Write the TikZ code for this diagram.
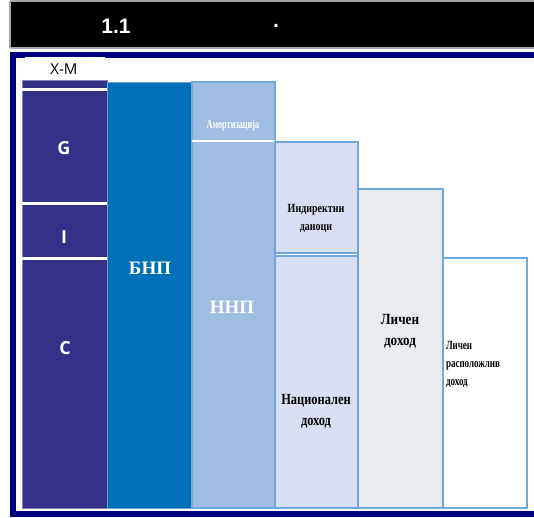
\documentclass[tikz,border=0pt]{standalone}
\usepackage{fontspec}
\setmainfont{Liberation Serif}
\newfontfamily\sansfont{Open Sans}
\newfontfamily\titlefont{Liberation Sans}
\definecolor{framenavy}{RGB}{0,0,128}
\definecolor{gdpviolet}{RGB}{53,48,136}
\definecolor{gnpblue}{RGB}{0,112,184}
\definecolor{nnpblue}{RGB}{160,188,226}
\definecolor{niblue}{RGB}{217,223,242}
\definecolor{pigray}{RGB}{232,236,240}
\definecolor{edgeblue}{RGB}{111,168,220}
\newcommand{\narrow}[2]{\scalebox{#1}[1]{#2}}

\begin{document}
\begin{tikzpicture}[x=1pt,y=-1pt,
  every node/.style={inner sep=0pt, outer sep=0pt},
  bar/.style={draw=edgeblue, line width=1.5pt},
  sepline/.style={white, line width=2.5pt},
  letter/.style={text=white, font=\sansfont\bfseries\fontsize{18}{18}\selectfont},
  whitelbl/.style={text=white, font=\bfseries\fontsize{19}{19}\selectfont},
  darklbl/.style={text=black, font=\bfseries\fontsize{15.5}{21}\selectfont, align=center},
  smalllbl/.style={text=black, font=\bfseries\fontsize{12.5}{18}\selectfont, align=center}]
\useasboundingbox (0,0) rectangle (534,517);

% title bar
\fill[black] (10,1) rectangle (534,48);
\draw[gray!70, line width=1.2pt] (10,1) -- (534,1) (10,48) -- (534,48) (10,1) -- (10,48);
\node[text=white, font=\titlefont\bfseries\fontsize{21}{21}\selectfont] (nr) at (116,26) {1.1};
\node[text=white, font=\titlefont\bfseries\fontsize{21}{21}\selectfont] (dot) at (276,26) {.};

% frame
\fill[framenavy] (10,52) rectangle (534,517);
\fill[white] (16,58) rectangle (534,511);

% expenditure column
\fill[gdpviolet, draw=gdpviolet!60!white, line width=0.8pt] (22,80) rectangle (107,508);
\draw[sepline] (22,89.5) -- (107,89.5);
\draw[sepline] (22,203.5) -- (107,203.5);
\draw[sepline] (22,258.5) -- (107,258.5);
\fill[white] (25,57) rectangle (105,80);
\node[font=\sansfont\fontsize{15}{15}\selectfont] (xm) at (64,69) {X-M};
\node[letter] (g) at (64,148) {G};
\node[letter] (i) at (64,237) {I};
\node[letter] (c) at (65,348) {C};

% income columns
\fill[gnpblue, draw=gnpblue!60!white, line width=0.8pt] (107,82) rectangle (192,508);
\node[whitelbl] (bnp) at (150,268) {БНП};

\fill[nnpblue, bar] (192,82) rectangle (275,508);
\draw[white, line width=2pt] (192,141) -- (275,141);
\node[text=white, font=\bfseries\fontsize{12.5}{12.5}\selectfont] (amort) at (233,125) {\narrow{0.66}{Амортизација}};
\node[whitelbl] (nnp) at (232,307) {ННП};

\fill[niblue, bar] (275,142) rectangle (358,253);
\node[smalllbl] (indir) at (316,218) {\narrow{0.8}{Индиректни}\\\narrow{0.8}{даноци}};
\fill[niblue, bar] (275,256) rectangle (358,508);
\node[darklbl] (ni) at (316,411) {\narrow{0.8}{Национален}\\\narrow{0.8}{доход}};

\fill[pigray, bar] (358,189) rectangle (443,508);
\node[darklbl] (pi) at (400,331) {\narrow{0.85}{Личен}\\\narrow{0.85}{доход}};

\fill[white, bar] (443,258) rectangle (527,508);
\node[smalllbl, align=left, anchor=west] (dpi) at (446,364) {\narrow{0.72}{Личен}\\\narrow{0.72}{расположлив}\\\narrow{0.72}{доход}};
\end{tikzpicture}
\end{document}
